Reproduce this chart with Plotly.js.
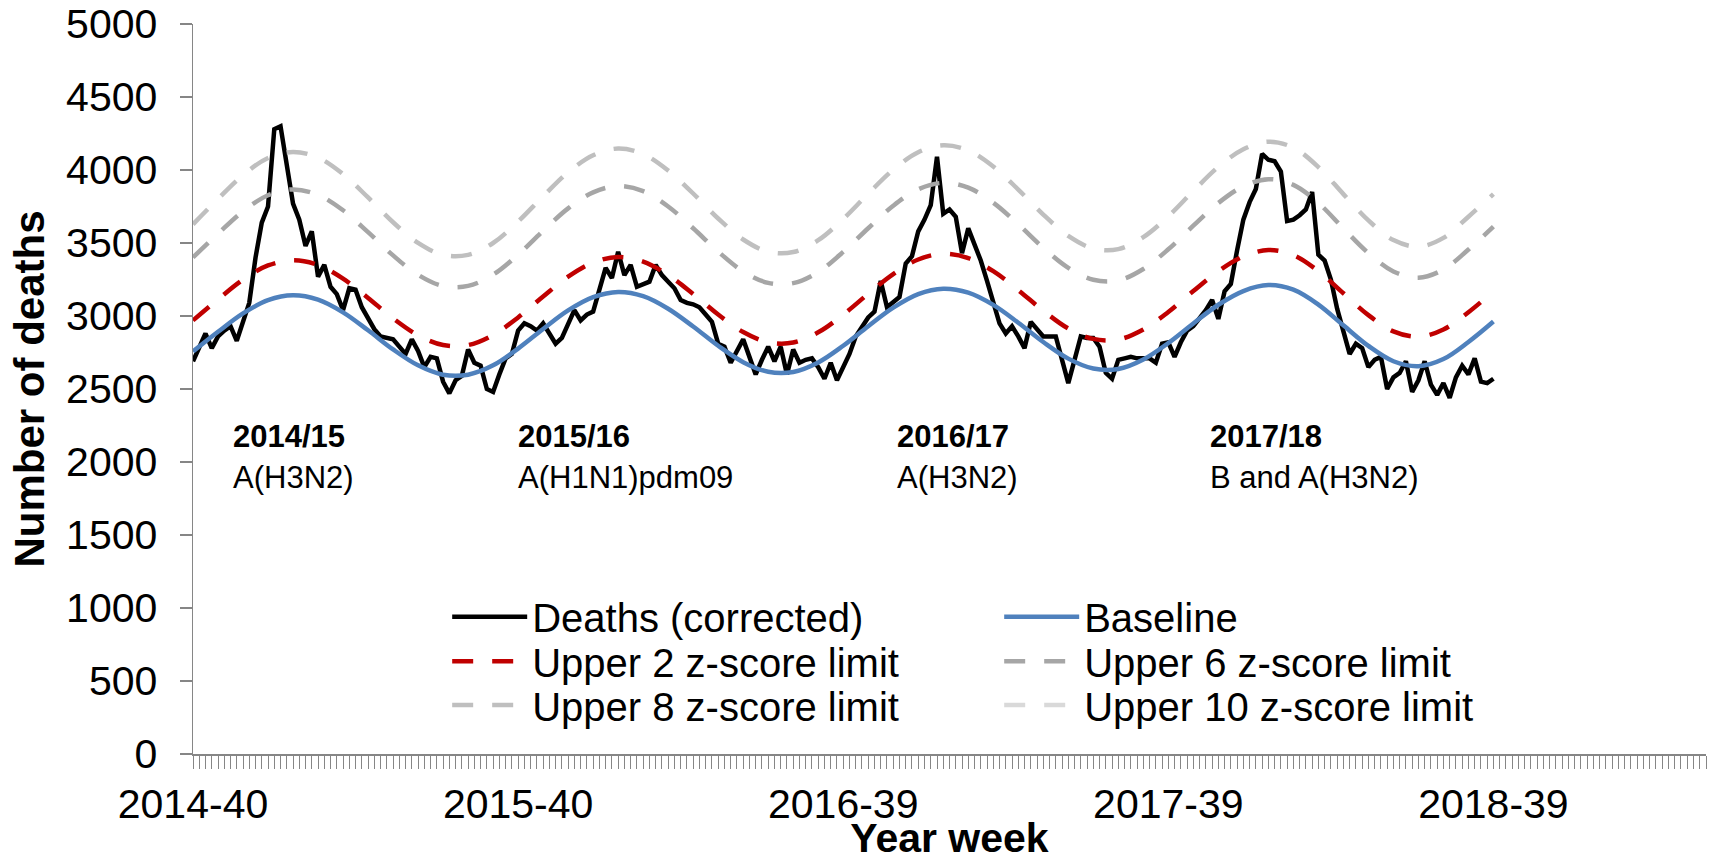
<!DOCTYPE html>
<html>
<head>
<meta charset="utf-8">
<script src="https://cdn.plot.ly/plotly-3.0.1.min.js"></script>
<style>html,body{margin:0;padding:0;background:#fff;}#chart{width:1715px;height:861px;}</style>
</head>
<body>
<div id="chart"></div>
<script>
// Tick labels (ISO year-week) and their week index from 2014-40
const weekLabels = ['2014-40', '2015-40', '2016-39', '2017-39', '2018-39'];
const weekLabelIndex = [0, 52, 104, 156, 208];

// Weekly deaths (corrected), week 0 = 2014-40 ... week 208 = 2018-39
const deaths = [
  2690, 2790, 2880, 2780, 2860, 2900, 2930, 2830, 2960, 3090,
  3400, 3640, 3750, 4280, 4300, 4040, 3770, 3660, 3480, 3580,
  3270, 3350, 3200, 3150, 3040, 3190, 3180, 3060, 2980, 2910,
  2860, 2850, 2840, 2790, 2740, 2840, 2760, 2650, 2720, 2710,
  2550, 2470, 2560, 2590, 2770, 2680, 2660, 2500, 2480, 2600,
  2710, 2740, 2900, 2950, 2930, 2900, 2950, 2880, 2810, 2850,
  2950, 3040, 2970, 3010, 3030, 3180, 3330, 3260, 3440, 3280,
  3350, 3200, 3220, 3235, 3350, 3280, 3235, 3190, 3110, 3090,
  3080, 3060, 3010, 2960, 2810, 2790, 2680, 2760, 2840, 2720,
  2600, 2700, 2790, 2690, 2790, 2600, 2770, 2680, 2700, 2710,
  2650, 2570, 2680, 2560, 2650, 2740, 2860, 2930, 2990, 3030,
  3240, 3060, 3100, 3130, 3360, 3410, 3580, 3660, 3760, 4090,
  3700, 3730, 3680, 3430, 3600, 3490, 3380, 3240, 3090, 2950,
  2880, 2930, 2860, 2780, 2960, 2910, 2860, 2860, 2860, 2700,
  2540, 2700, 2860, 2850, 2850, 2790, 2610, 2570, 2700, 2710,
  2720, 2710, 2710, 2710, 2680, 2810, 2820, 2720, 2820, 2900,
  2930, 2980, 3040, 3110, 2980, 3170, 3220, 3450, 3660, 3780,
  3870, 4110, 4070, 4060, 3990, 3650, 3660, 3690, 3730, 3850,
  3420, 3380, 3250, 3050, 2900, 2740, 2810, 2780, 2650, 2700,
  2720, 2500, 2580, 2610, 2690, 2480, 2560, 2690, 2530, 2460,
  2540, 2440, 2580, 2660, 2600, 2710, 2550, 2540, 2570
];

// Smooth series, read every 4th week
const limitWeeks = [
  0, 4, 8, 12, 16, 20, 24, 28, 32, 36, 40, 44, 48, 52, 56, 60, 64, 68,
  72, 76, 80, 84, 88, 92, 96, 100, 104, 108, 112, 116, 120, 124, 128, 132,
  136, 140, 144, 148, 152, 156, 160, 164, 168, 172, 176, 180, 184, 188,
  192, 196, 200, 204, 208
];
const baseline = [
  2757, 2892, 3018, 3109, 3142, 3112, 3025, 2902, 2771, 2662, 2598, 2598, 2662,
  2777, 2911, 3038, 3129, 3165, 3136, 3050, 2928, 2796, 2684, 2618, 2617, 2682,
  2796, 2930, 3057, 3150, 3187, 3160, 3076, 2954, 2822, 2708, 2640, 2637, 2702,
  2815, 2949, 3077, 3171, 3212, 3180, 3078, 2936, 2795, 2690, 2656, 2705, 2822,
  2962
];
const upper2 = [
  2970, 3114, 3249, 3346, 3381, 3349, 3256, 3124, 2984, 2868, 2801, 2801, 2870,
  2990, 3133, 3269, 3366, 3404, 3373, 3281, 3151, 3010, 2890, 2820, 2818, 2888,
  3009, 3152, 3287, 3387, 3426, 3397, 3307, 3177, 3036, 2914, 2843, 2839, 2907,
  3028, 3171, 3307, 3408, 3452, 3417, 3307, 3156, 3006, 2895, 2858, 2908, 3026,
  3170
];
const upper6 = [
  3401, 3564, 3717, 3827, 3867, 3830, 3724, 3574, 3415, 3282, 3205, 3206, 3283,
  3420, 3583, 3737, 3847, 3890, 3855, 3750, 3601, 3441, 3305, 3227, 3225, 3301,
  3439, 3601, 3755, 3868, 3912, 3879, 3776, 3628, 3467, 3330, 3248, 3244, 3322,
  3457, 3619, 3774, 3888, 3937, 3898, 3774, 3600, 3431, 3305, 3262, 3318, 3455,
  3612
];
const upper8 = [
  3628, 3802, 3965, 4082, 4124, 4085, 3972, 3812, 3642, 3501, 3419, 3419, 3500,
  3647, 3820, 3984, 4101, 4147, 4109, 3997, 3839, 3668, 3524, 3440, 3438, 3519,
  3665, 3838, 4002, 4122, 4169, 4134, 4024, 3866, 3695, 3548, 3462, 3458, 3540,
  3683, 3856, 4021, 4142, 4194, 4153, 4020, 3835, 3655, 3520, 3475, 3535, 3680,
  3835
];
// The 10 z-score limit is not drawn in the original (legend entry only): no values
const upper10Weeks = [0];
const upper10 = [null];

const weekIndex = deaths.map((_, i) => i);

const dashStyle = '21px,19px';
const traces = [
  {x: weekIndex, y: deaths, name: 'Deaths (corrected)', mode: 'lines',
   line: {color: '#000000', width: 4.5}, legend: 'legend'},
  {x: limitWeeks, y: baseline, name: 'Baseline', mode: 'lines',
   line: {color: '#4F81BD', width: 4.5, shape: 'spline'}, legend: 'legend'},
  {x: limitWeeks, y: upper2, name: 'Upper 2 z-score limit', mode: 'lines',
   line: {color: '#C00000', width: 4.5, dash: dashStyle, shape: 'spline'}, legend: 'legend2'},
  {x: limitWeeks, y: upper6, name: 'Upper 6 z-score limit', mode: 'lines',
   line: {color: '#A6A6A6', width: 4.5, dash: dashStyle, shape: 'spline'}, legend: 'legend2'},
  {x: limitWeeks, y: upper8, name: 'Upper 8 z-score limit', mode: 'lines',
   line: {color: '#BFBFBF', width: 4.5, dash: dashStyle, shape: 'spline'}, legend: 'legend3'},
  {x: upper10Weeks, y: upper10, name: 'Upper 10 z-score limit', mode: 'lines',
   line: {color: '#D9D9D9', width: 4.5, dash: dashStyle}, legend: 'legend3'}
];

const FONT = 'Liberation Sans, Arial, Helvetica, sans-serif';
function legendAt(y) {
  return {
    orientation: 'h', x: 0.168, xanchor: 'left', y: y, yanchor: 'middle',
    bgcolor: 'rgba(0,0,0,0)', borderwidth: 0,
    font: {family: FONT, size: 40, color: '#000'},
    itemwidth: 75, entrywidth: 462, entrywidthmode: 'pixels',
    itemclick: false, itemdoubleclick: false
  };
}

const seasons = [
  {x: 6.0, year: '2014/15', virus: 'A(H3N2)'},
  {x: 51.7, year: '2015/16', virus: 'A(H1N1)pdm09'},
  {x: 112.3, year: '2016/17', virus: 'A(H3N2)'},
  {x: 162.4, year: '2017/18', virus: 'B and A(H3N2)'}
];
const annotations = [];
seasons.forEach(s => {
  annotations.push({x: s.x, y: 2178, xref: 'x', yref: 'y', text: '<b>' + s.year + '</b>',
    showarrow: false, xanchor: 'left', yanchor: 'middle',
    font: {family: FONT, size: 31, color: '#000'}});
  annotations.push({x: s.x, y: 1895, xref: 'x', yref: 'y', text: s.virus,
    showarrow: false, xanchor: 'left', yanchor: 'middle',
    font: {family: FONT, size: 31, color: '#000'}});
});

const layout = {
  width: 1715, height: 861,
  margin: {l: 193, r: 9, t: 24, b: 107},
  paper_bgcolor: '#ffffff', plot_bgcolor: '#ffffff',
  font: {family: FONT, color: '#000'},
  showlegend: true,
  legend: legendAt(0.188),
  legend2: legendAt(0.127),
  legend3: legendAt(0.067),
  xaxis: {
    range: [0, 242], showgrid: false, zeroline: false,
    showline: true, linecolor: '#868686', linewidth: 1.5,
    tickmode: 'array', tickvals: weekLabelIndex, ticktext: weekLabels,
    ticks: 'outside', ticklen: 13, tickwidth: 1, tickcolor: '#868686',
    minor: {tick0: 0, dtick: 1, ticks: 'outside', ticklen: 13, tickwidth: 1, tickcolor: '#868686', showgrid: false},
    tickfont: {family: FONT, size: 41, color: '#000'},
    ticklabelstandoff: 0,
    title: {text: '<b>Year week</b>', font: {family: FONT, size: 41, color: '#000'}, standoff: 9},
    automargin: false
  },
  yaxis: {
    range: [0, 5000], tick0: 0, dtick: 500, showgrid: false, zeroline: false,
    showline: true, linecolor: '#868686', linewidth: 1.5,
    ticks: 'outside', ticklen: 12, tickwidth: 1.5, tickcolor: '#868686',
    tickfont: {family: FONT, size: 41, color: '#000'},
    ticklabelstandoff: 14,
    title: {text: '<b>Number of deaths</b>', font: {family: FONT, size: 42, color: '#000'}, standoff: 8},
    automargin: false
  },
  annotations: annotations
};

Plotly.newPlot('chart', traces, layout, {displayModeBar: false, staticPlot: true});
</script>
</body>
</html>
